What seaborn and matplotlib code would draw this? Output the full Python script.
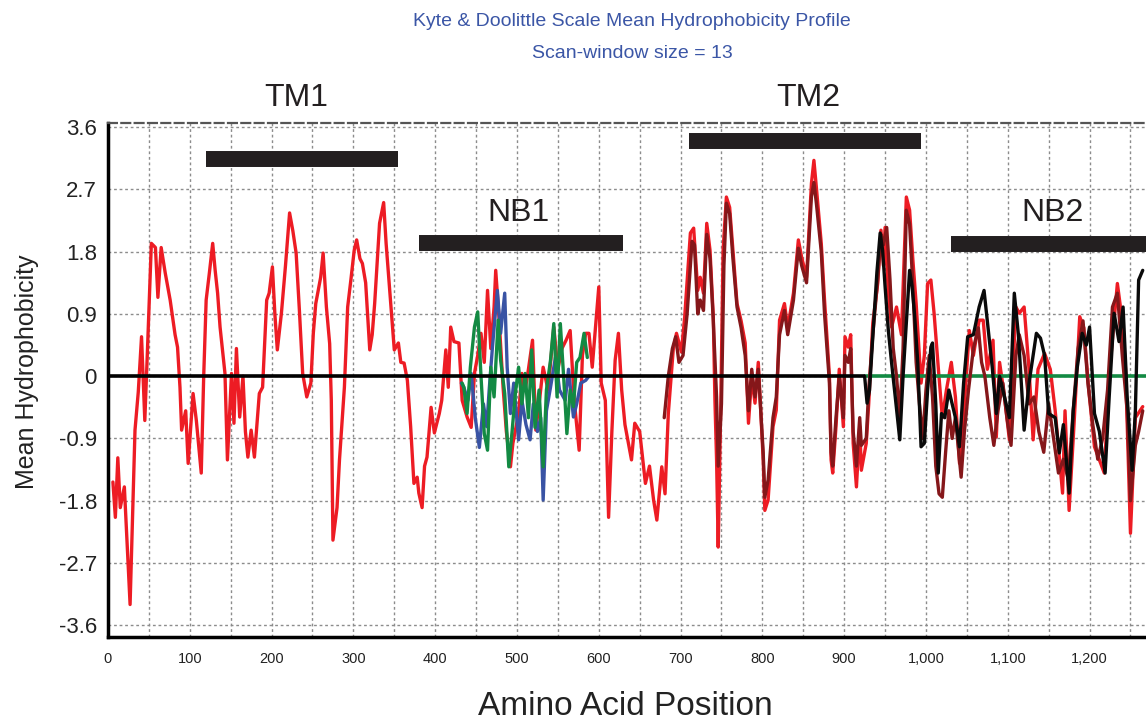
import pandas as pd
import seaborn as sns
import matplotlib.pyplot as plt
from matplotlib.ticker import MultipleLocator, FuncFormatter

# full-length trace (red)
red_pos = [6, 9, 12, 15, 20, 27, 33, 37, 41, 45, 48, 53, 58, 61, 65, 70, 76, 82, 85, 88, 90, 95, 98,
           104, 108, 114, 117, 120, 124, 128, 131, 134, 137, 143, 146, 151, 154, 157, 161, 165, 168,
           171, 175, 179, 185, 189, 194, 197, 201, 204, 207, 212, 217, 222, 226, 230, 234, 238, 243,
           248, 251, 254, 260, 263, 267, 271, 273, 275, 280, 283, 289, 293, 297, 301, 304, 308, 311,
           315, 320, 323, 326, 332, 337, 340, 344, 347, 350, 355, 358, 362, 366, 370, 374, 378, 380,
           384, 387, 390, 395, 399, 405, 408, 413, 416, 419, 423, 429, 433, 439, 444, 448, 452, 456,
           460, 464, 468, 472, 474, 478, 483, 487, 492, 495, 502, 506, 510, 514, 519, 523, 528, 532,
           538, 545, 550, 555, 560, 565, 570, 576, 580, 584, 588, 592, 596, 600, 603, 608, 612, 616,
           620, 624, 628, 632, 640, 644, 650, 657, 662, 667, 671, 677, 681, 685, 691, 695, 701, 705,
           712, 716, 721, 724, 728, 732, 736, 740, 742, 744, 746, 749, 752, 756, 760, 764, 769, 774,
           779, 783, 787, 791, 795, 801, 803, 807, 813, 817, 821, 827, 831, 838, 844, 848, 854, 860,
           863, 866, 872, 876, 882, 884, 886, 890, 894, 899, 901, 905, 908, 911, 915, 919, 921, 927,
           930, 935, 941, 945, 948, 950, 954, 958, 964, 970, 976, 980, 984, 988, 994, 998, 1002, 1006,
           1010, 1015, 1020, 1025, 1031, 1036, 1041, 1047, 1053, 1058, 1065, 1070, 1075, 1082, 1086,
           1090, 1096, 1102, 1110, 1114, 1120, 1126, 1131, 1137, 1145, 1152, 1158, 1167, 1170, 1175,
           1181, 1188, 1193, 1199, 1206, 1218, 1224, 1234, 1240, 1244, 1250, 1256, 1265]
red_val = [-1.53, -2.04, -1.18, -1.9, -1.6, -3.3, -0.78, -0.23, 0.57, -0.64, 0.3, 1.92, 1.86, 1.14,
           1.86, 1.49, 1.1, 0.6, 0.42, -0.16, -0.78, -0.5, -1.26, -0.25, -0.64, -1.4, 0.0, 1.1, 1.5,
           1.92, 1.53, 1.2, 0.71, 0.04, -1.21, 0.04, -0.68, 0.4, -0.59, 0.0, -0.8, -1.17, -0.78,
           -1.17, -0.25, -0.16, 1.1, 1.2, 1.58, 0.9, 0.38, 0.91, 1.6, 2.36, 2.1, 1.78, 0.95, 0.04,
           -0.3, -0.1, 0.62, 1.05, 1.43, 1.78, 1.0, 0.47, -0.35, -2.37, -1.9, -1.21, -0.16, 1.0, 1.4,
           1.82, 1.97, 1.7, 1.63, 1.35, 0.38, 0.6, 1.05, 2.21, 2.51, 1.92, 1.3, 0.85, 0.38, 0.48, 0.2,
           0.19, -0.06, -0.73, -1.55, -1.46, -1.69, -1.9, -1.3, -1.17, -0.45, -0.82, -0.54, -0.35,
           0.38, -0.16, 0.71, 0.5, 0.48, -0.35, -0.59, -0.74, 0.04, 0.3, 0.62, 0.2, 1.24, 0.4, 1.0,
           1.53, 0.85, -0.16, -0.8, -1.31, -0.97, -0.54, 0.04, -0.2, 0.1, 0.52, -0.78, -0.3, 0.13,
           -0.2, 0.71, 0.1, 0.4, 0.52, 0.66, -0.35, -1.07, 0.3, 0.62, 0.62, 0.13, 0.71, 1.29, -0.1,
           -0.35, -2.04, -0.8, 0.23, 0.62, -0.2, -0.7, -1.21, -0.68, -0.8, -1.55, -1.3, -1.79, -2.08,
           -1.31, -1.7, -0.54, 0.38, 0.62, 0.35, 0.85, 2.07, 2.14, 1.24, 1.43, 1.2, 2.21, 1.82, 0.86,
           -0.35, -1.21, -2.47, -0.5, 1.82, 2.59, 2.44, 1.82, 1.05, 0.8, 0.48, -0.68, 0.0, -0.39, 0.2,
           -1.21, -1.94, -1.79, -0.73, -0.49, 0.81, 1.05, 0.7, 1.2, 1.97, 1.72, 1.43, 2.79, 3.12, 2.73,
           1.92, 1.1, 0.0, -1.21, -1.4, -0.73, 0.1, -0.73, 0.57, 0.42, 0.6, -0.97, -1.6, -0.73, -1.36,
           -0.97, -0.4, 0.77, 1.34, 2.11, 1.6, 2.15, 1.2, 0.71, 1.0, 0.6, 2.59, 2.4, 1.68, 1.05, -0.1,
           0.3, 1.34, 1.39, 0.9, 0.13, -0.6, -0.2, 0.2, -0.3, -1.26, -0.4, 0.66, 0.3, 0.81, 0.81, 0.1,
           0.52, -0.88, 0.2, -0.3, -0.92, 1.0, 0.91, 1.0, 0.1, -0.92, 0.1, 0.33, 0.1, -0.5, -1.69,
           -0.5, -1.94, -0.7, 0.86, 0.7, -0.2, -1.02, -1.4, 0.0, 1.34, 0.8, 0.1, -2.27, -0.6, -0.44]

# second trace (dark red), C-terminal half
dred_pos = [680, 685, 690, 694, 698, 703, 708, 714, 717, 721, 724, 728, 732, 736, 740, 744, 746, 750,
            753, 756, 760, 764, 769, 774, 779, 783, 787, 791, 795, 801, 803, 807, 813, 817, 821, 827,
            831, 838, 844, 848, 854, 860, 863, 866, 872, 876, 882, 884, 886, 890, 894, 899, 901, 905,
            908, 911, 915, 919, 921, 927, 930, 935, 941, 945, 948, 952, 956, 960, 964, 968, 972, 976,
            980, 984, 988, 992, 996, 1000, 1004, 1008, 1012, 1016, 1020, 1024, 1028, 1032, 1036, 1040,
            1043, 1047, 1052, 1058, 1064, 1068, 1072, 1078, 1083, 1088, 1094, 1099, 1104, 1110, 1114,
            1120, 1126, 1132, 1138, 1144, 1150, 1156, 1162, 1168, 1174, 1180, 1186, 1192, 1198, 1204,
            1210, 1216, 1222, 1228, 1234, 1240, 1246, 1250, 1256, 1260, 1265]
dred_val = [-0.6, 0.0, 0.4, 0.57, 0.2, 0.3, 0.9, 1.95, 1.9, 0.9, 1.1, 0.95, 2.05, 1.7, 0.8, -0.3, -1.3,
            -0.4, 1.6, 2.5, 2.35, 1.7, 1.0, 0.7, 0.3, -0.5, 0.1, -0.3, 0.1, -1.1, -1.75, -1.5, -0.6,
            -0.3, 0.6, 0.95, 0.6, 1.1, 1.85, 1.6, 1.35, 2.6, 2.8, 2.5, 1.8, 0.9, -0.1, -1.1, -1.3, -0.6,
            0.0, -0.6, 0.3, 0.2, 0.4, -0.8, -1.3, -0.6, -1.0, -0.9, -0.2, 0.6, 1.4, 2.05, 1.9, 2.15,
            1.4, 0.4, 0.0, -0.6, 0.4, 2.4, 2.2, 1.3, 0.2, -0.4, -0.9, -0.2, 0.3, -0.3, -1.3, -1.7,
            -1.75, -1.1, -0.5, -0.9, -0.6, -1.1, -1.46, -0.8, -0.2, 0.4, 0.7, 0.2, 0.0, -0.6, -1.0,
            -0.5, -0.1, -0.6, -1.0, 0.3, 0.6, 0.3, -0.4, -0.3, -0.8, -1.1, -0.4, -0.9, -1.4, -1.2,
            -1.5, -0.5, 0.4, 0.8, -0.1, -0.7, -1.2, -0.9, -0.2, 1.0, 1.2, 0.3, -0.5, -1.8, -1.0, -0.8,
            -0.5]

# third trace (black), NB2 part
blk_pos = [925, 928, 931, 935, 940, 944, 947, 950, 954, 958, 962, 968, 972, 976, 980, 983, 986, 990,
           994, 998, 1002, 1006, 1008, 1012, 1015, 1019, 1023, 1028, 1032, 1036, 1041, 1046, 1051,
           1058, 1065, 1071, 1075, 1081, 1086, 1090, 1096, 1102, 1108, 1113, 1120, 1126, 1135, 1140,
           1145, 1150, 1158, 1163, 1168, 1175, 1180, 1185, 1191, 1196, 1200, 1206, 1212, 1219, 1224,
           1230, 1236, 1241, 1246, 1252, 1256, 1260, 1265]
blk_val = [0.0, -0.39, -0.2, 0.57, 1.5, 2.07, 1.82, 1.3, 0.66, 0.19, -0.25, -0.92, 0.0, 0.77, 1.53, 1.3,
           0.9, 0.19, -1.02, -0.97, -0.2, 0.42, 0.48, -0.4, -1.4, -0.54, -0.6, -0.2, -0.4, -0.6, -1.02,
           -0.1, 0.57, 0.6, 1.0, 1.24, 0.8, 0.13, -0.54, 0.0, -0.3, -0.6, 1.2, 0.6, -0.78, -0.1, 0.62,
           0.55, 0.3, -0.54, -0.6, -1.11, -0.7, -1.69, -0.5, 0.13, 0.62, 0.45, 0.71, -0.54, -0.8, -1.4,
           -0.3, 0.91, 0.5, 1.0, -0.3, -1.36, -0.5, 1.39, 1.53]

# NB1 traces (blue, green)
blue_pos = [432, 435, 440, 444, 449, 454, 459, 463, 466, 470, 476, 480, 485, 488, 492, 496, 502, 506,
            511, 516, 520, 525, 529, 532, 536, 541, 547, 552, 559, 563, 569, 573, 578, 584, 588]
blue_val = [-0.1, -0.16, -0.35, 0.04, -0.6, -1.03, -0.4, -0.73, -0.2, 0.42, 1.24, 0.62, 1.2, 0.13,
            -0.54, -0.1, -0.92, -0.35, -0.7, -0.92, -0.4, -0.8, -0.6, -1.79, -0.5, -0.16, 0.27, -0.2,
            -0.35, 0.1, -0.59, -0.4, -0.1, -0.06, 0.0]
green_pos = [433, 435, 439, 443, 448, 452, 456, 460, 464, 468, 472, 477, 480, 485, 490, 494, 498, 502,
             506, 510, 514, 518, 522, 527, 532, 536, 541, 545, 549, 553, 557, 561, 565, 569, 573, 577,
             582, 586]
green_val = [-0.1, -0.16, -0.54, 0.13, 0.71, 0.93, 0.0, -0.83, -1.07, 0.13, -0.3, 0.81, 0.23, -0.25,
             -1.31, -0.8, -0.25, 0.13, -0.4, 0.04, -0.6, 0.38, -0.74, -0.2, -1.31, -0.2, 0.23, 0.76,
             -0.3, 0.76, 0.0, -0.83, -0.2, -0.44, 0.2, 0.27, 0.62, 0.27]

# zero baselines
base_split = 925
base_end = 1270

# domain annotations
domains = ["TM1", "NB1", "TM2", "NB2"]
dom_start = [120, 380, 710, 1030]
dom_end = [355, 629, 994, 1280]
dom_bar_y = [3.14, 1.92, 3.40, 1.91]
dom_label_x = [230, 502, 856, 1155]
dom_label_y = [4.02, 2.36, 4.02, 2.36]

RED = "#ed1c24"
DRED = "#85171a"
BLUE = "#3953a4"
GREEN = "#138a43"

sns.set_style("white")
plt.rcParams['font.family'] = ['Liberation Sans', 'DejaVu Sans']

fig = plt.figure(figsize=(11.46, 7.24), dpi=100)
ax = fig.add_axes([108 / 1146, 87 / 724, 1 - 108 / 1146, 514 / 724])

lw = 2.4
sns.lineplot(x=red_pos, y=red_val, ax=ax, color=RED, lw=lw, sort=False, estimator=None)
ax.hlines(0, base_split, base_end, color=GREEN, lw=2.6, zorder=2)
sns.lineplot(x=dred_pos, y=dred_val, ax=ax, color=DRED, lw=lw, sort=False, estimator=None)
sns.lineplot(x=blk_pos, y=blk_val, ax=ax, color="#0a0a0a", lw=lw, sort=False, estimator=None)
sns.lineplot(x=blue_pos, y=blue_val, ax=ax, color=BLUE, lw=lw, sort=False, estimator=None)
sns.lineplot(x=green_pos, y=green_val, ax=ax, color=GREEN, lw=lw, sort=False, estimator=None)
ax.hlines(0, 0, base_split, color="black", lw=2.6, zorder=5)

ax.hlines(dom_bar_y, dom_start, dom_end, color="#231f20", lw=11.5, capstyle="butt", zorder=6)
for name, lx, ly in zip(domains, dom_label_x, dom_label_y):
    ax.text(lx, ly, name, ha="center", va="center", fontsize=23, color="#231f20", clip_on=False)

ax.set_xlim(0, 1269)
ax.set_ylim(-3.77, 3.66)
ax.xaxis.set_major_locator(MultipleLocator(50))
ax.xaxis.set_minor_locator(MultipleLocator(25))
ax.xaxis.set_major_formatter(FuncFormatter(lambda v, p: f"{int(v):,}" if int(v) % 100 == 0 else ""))
ax.yaxis.set_major_locator(MultipleLocator(0.9))
ax.yaxis.set_minor_locator(MultipleLocator(0.18))
ax.yaxis.set_major_formatter(FuncFormatter(lambda v, p: "0" if abs(v) < 1e-9 else f"{v:.1f}"))

ax.grid(True, which="major", color="#8c8c8c", linestyle=(0, (2, 2)), lw=1.0)
ax.tick_params(axis="x", which="both", direction="out", length=3, width=1, colors="#444444",
               labelsize=10.5, labelcolor="#222222", pad=8)
ax.tick_params(axis="y", which="both", direction="out", length=3, width=1, colors="#888888",
               labelsize=16, labelcolor="#222222", pad=5)

for side in ("left", "bottom"):
    ax.spines[side].set_color("black")
    ax.spines[side].set_linewidth(2.5)
ax.spines["right"].set_visible(False)
ax.spines["top"].set_color("#555555")
ax.spines["top"].set_linewidth(1.6)
ax.spines["top"].set_linestyle((0, (4, 2)))

ax.set_xlabel("Amino Acid Position", fontsize=24, color="#222222")
ax.set_ylabel("Mean Hydrophobicity", fontsize=18, color="#222222")
ax.xaxis.set_label_coords(0.498, -0.106)
ax.yaxis.set_label_coords(-0.066, 0.517)

fig.text(632 / 1146, 1 - 22 / 724, "Kyte & Doolittle Scale Mean Hydrophobicity Profile",
         ha="center", va="center", fontsize=14, color="#3b56a6")
fig.text(632 / 1146, 1 - 54 / 724, "Scan-window size = 13",
         ha="center", va="center", fontsize=14, color="#3b56a6")

fig.savefig("out.png", dpi=100)
